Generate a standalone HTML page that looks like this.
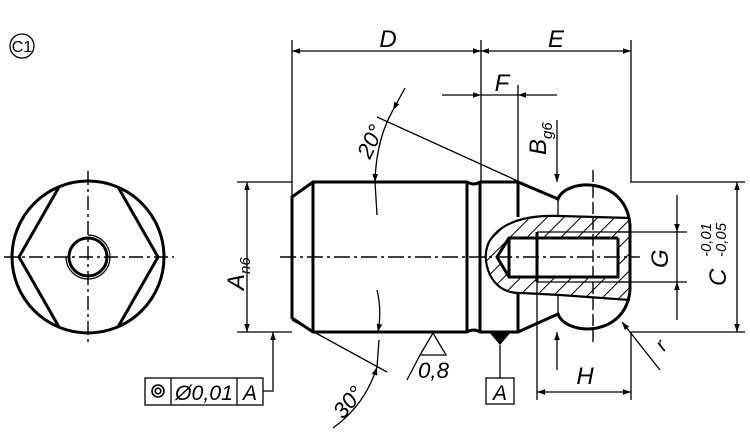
<!DOCTYPE html>
<html><head><meta charset="utf-8"><style>
html,body{margin:0;padding:0;background:#fff;}
svg{display:block;}
text{font-family:"Liberation Sans",sans-serif;font-style:italic;fill:#000;}
</style></head><body>
<svg width="750" height="436" viewBox="0 0 750 436" xmlns="http://www.w3.org/2000/svg">
<defs>
<marker id="a" viewBox="0 0 10 10" refX="10" refY="5" markerWidth="18" markerHeight="8" markerUnits="userSpaceOnUse" orient="auto-start-reverse"><path d="M0,1.5 L10,5 L0,8.5z" fill="#000"/></marker>
<pattern id="h" patternUnits="userSpaceOnUse" width="12" height="12" patternTransform="rotate(45)"><line x1="0" y1="0" x2="0" y2="12" stroke="#000" stroke-width="2"/></pattern>
<clipPath id="hc"><path clip-rule="evenodd" d="M630,218 L560,216 Q505,214 489,242 Q482,257 490,275 Q500,294 522,293 L560,295 L630,300 Z M497,257 L509,238 L618,238 L618,277 L509,277 Z"/></clipPath>
</defs>
<g fill="none" stroke="#000">
<!-- C1 -->
<circle cx="22" cy="46" r="12" stroke-width="1.3"/>
<!-- left view -->
<circle cx="88" cy="257" r="76" stroke-width="3"/>
<polyline points="59,187 19,257 59,327" stroke-width="3"/>
<polyline points="118,187 158,257 118,327" stroke-width="3"/>
<circle cx="88" cy="257" r="19" stroke-width="3"/>
<path d="M88,235 A22,22 0 1 1 66,257" stroke-width="1.2"/>
<line x1="4" y1="257" x2="174" y2="257" stroke-width="1.4" stroke-dasharray="14,4,3,4"/>
<line x1="88" y1="171" x2="88" y2="343" stroke-width="1.4" stroke-dasharray="14,4,3,4"/>
<!-- main body -->
<g stroke-width="3">
<path d="M292,197 L313,182 L467,182 Q474,186 480,182 L518,182 L558,199 C566,178 626,176 630,225 L630,290 C626,338 566,336 558,314 L518,332 L480,332 Q474,328 467,332 L313,332 L292,318 Z"/>
<line x1="313" y1="182" x2="313" y2="332"/>
<line x1="467" y1="182" x2="467" y2="332"/>
<line x1="480" y1="182" x2="480" y2="332"/>
<line x1="518" y1="182" x2="518" y2="217"/>
<line x1="518" y1="294" x2="518" y2="332"/>
</g>
<rect x="480" y="210" width="152" height="95" fill="url(#h)" stroke="none" clip-path="url(#hc)"/>
<path d="M630,218 L560,216 Q505,214 489,242 Q482,257 490,275 Q500,294 522,293 L560,295 L630,300" stroke-width="2.2"/>
<path d="M618,238 L509,238 L497,257 L509,277 L618,277 L618,238" stroke-width="3"/>
<line x1="509" y1="238" x2="509" y2="277" stroke-width="3"/>
<line x1="537" y1="232" x2="537" y2="282" stroke-width="3"/>
<line x1="537" y1="232" x2="630" y2="232" stroke-width="1.3"/>
<line x1="537" y1="282" x2="630" y2="282" stroke-width="1.3"/>
<line x1="558" y1="199" x2="558" y2="217" stroke-width="1.3"/>
<line x1="558" y1="295" x2="558" y2="314" stroke-width="1.3"/>
<!-- center lines -->
<line x1="280" y1="257" x2="640" y2="257" stroke-width="1.4" stroke-dasharray="16,4,3,4"/>
<line x1="593" y1="170" x2="593" y2="345" stroke-width="1.4" stroke-dasharray="12,4"/>
<!-- ext lines -->
<g stroke-width="1.3">
<line x1="292" y1="40" x2="292" y2="197"/>
<line x1="481" y1="40" x2="481" y2="182"/>
<line x1="631" y1="40" x2="631" y2="182"/>
<line x1="518" y1="85" x2="518" y2="182"/>
<line x1="237" y1="182" x2="292" y2="182"/>
<line x1="237" y1="332" x2="292" y2="332"/>
<line x1="630" y1="182" x2="745" y2="182"/>
<line x1="630" y1="332" x2="745" y2="332"/>
<line x1="618" y1="232" x2="687" y2="232"/>
<line x1="618" y1="282" x2="687" y2="282"/>
<line x1="537" y1="282" x2="537" y2="400"/>
<line x1="631" y1="332" x2="631" y2="400"/>
<line x1="292" y1="51" x2="481" y2="51" marker-start="url(#a)" marker-end="url(#a)"/>
<line x1="481" y1="51" x2="631" y2="51" marker-start="url(#a)" marker-end="url(#a)"/>
<line x1="442" y1="95" x2="481" y2="95" marker-end="url(#a)"/>
<line x1="557" y1="95" x2="518" y2="95" marker-end="url(#a)"/>
<line x1="481" y1="95" x2="518" y2="95"/>
<line x1="557" y1="120" x2="557" y2="182" marker-end="url(#a)"/>
<line x1="557" y1="370" x2="557" y2="332" marker-end="url(#a)"/>
<line x1="247" y1="182" x2="247" y2="332" marker-start="url(#a)" marker-end="url(#a)"/>
<line x1="677" y1="195" x2="677" y2="232" marker-end="url(#a)"/>
<line x1="677" y1="320" x2="677" y2="282" marker-end="url(#a)"/>
<line x1="677" y1="232" x2="677" y2="282"/>
<line x1="737" y1="182" x2="737" y2="332" marker-start="url(#a)" marker-end="url(#a)"/>
<line x1="537" y1="392" x2="631" y2="392" marker-start="url(#a)" marker-end="url(#a)"/>
<line x1="660" y1="370" x2="622" y2="322" marker-end="url(#a)"/>
<line x1="377" y1="117" x2="520" y2="182"/>
<line x1="292" y1="320" x2="387" y2="372"/>
<path d="M405,88 L393,110" marker-end="url(#a)"/>
<path d="M393,110 Q376,140 375,182" marker-end="url(#a)"/>
<line x1="375" y1="182" x2="377" y2="215"/>
<path d="M377,290 Q382,310 378,332" marker-end="url(#a)"/>
<path d="M333,428 Q365,405 377,367" marker-end="url(#a)"/>
<line x1="377" y1="367" x2="379" y2="340"/>
<path d="M420,355 L433,333 L446,355 Z"/>
<line x1="407" y1="380" x2="420" y2="355"/>
<line x1="500" y1="345" x2="500" y2="378"/>
<rect x="486" y="378" width="28" height="26"/>
<rect x="145" y="378" width="118" height="27"/>
<line x1="171" y1="378" x2="171" y2="405"/>
<line x1="237" y1="378" x2="237" y2="405"/>
<path d="M263,391 L273,391 L273,332" marker-end="url(#a)"/>
</g>
<circle cx="158" cy="391" r="6" stroke-width="1.6"/>
<circle cx="158" cy="391" r="2.8" stroke-width="1.6"/>
</g>
<path d="M489,332 L511,332 L500,345 Z" fill="#000"/>
<text x="22" y="52" font-size="16" text-anchor="middle" style="font-style:normal">C1</text>
<text x="388" y="47" font-size="24" text-anchor="middle">D</text>
<text x="556" y="47" font-size="24" text-anchor="middle">E</text>
<text x="502" y="91" font-size="24" text-anchor="middle">F</text>
<text transform="translate(546,155) rotate(-90)" font-size="24">B<tspan font-size="15" dy="6">g6</tspan></text>
<text transform="translate(370,160) rotate(-65)" font-size="22" textLength="34" lengthAdjust="spacingAndGlyphs">20°</text>
<text transform="translate(244,290) rotate(-90)" font-size="24">A<tspan font-size="15" dy="6">n6</tspan></text>
<text transform="translate(668,268) rotate(-90)" font-size="24">G</text>
<text transform="translate(726,286) rotate(-90)" font-size="24">C</text>
<text transform="translate(711,257) rotate(-90)" font-size="15" textLength="34" lengthAdjust="spacingAndGlyphs">-0,01</text>
<text transform="translate(726,257) rotate(-90)" font-size="15" textLength="34" lengthAdjust="spacingAndGlyphs">-0,05</text>
<text x="585" y="384" font-size="24" text-anchor="middle">H</text>
<text transform="translate(664,352) rotate(-50)" font-size="20">r</text>
<text x="418" y="378" font-size="22" textLength="31" lengthAdjust="spacingAndGlyphs">0,8</text>
<text transform="translate(343,420) rotate(-50)" font-size="22" textLength="34" lengthAdjust="spacingAndGlyphs">30°</text>
<text x="500" y="400" font-size="21" text-anchor="middle">A</text>
<text x="175" y="400" font-size="21" textLength="58" lengthAdjust="spacingAndGlyphs">Ø0,01</text>
<text x="250" y="400" font-size="21" text-anchor="middle">A</text>
</svg>
</body></html>
